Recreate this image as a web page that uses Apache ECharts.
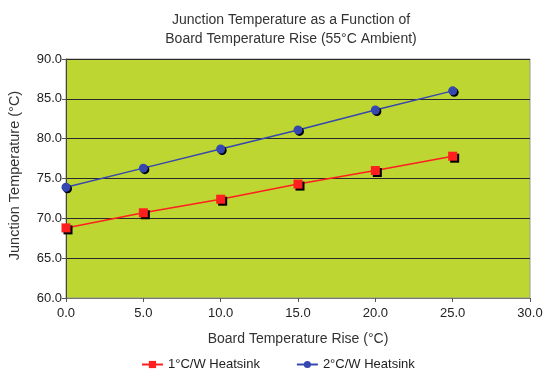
<!DOCTYPE html>
<html><head><meta charset="utf-8">
<script src="https://cdn.jsdelivr.net/npm/echarts@6/dist/echarts.min.js"></script>
<style>html,body{margin:0;padding:0;background:#fff}#c{width:546px;height:374px}</style>
</head><body><div id="c"></div>
<script>
var xValues = [0, 5, 10, 15, 20, 25];
var series1Name = '1°C/W Heatsink';
var series1 = [68.8, 70.7, 72.4, 74.3, 76.0, 77.8];
var series2Name = '2°C/W Heatsink';
var series2 = [73.9, 76.3, 78.7, 81.1, 83.6, 86.0];
var titleLines = ['Junction Temperature as a Function of', 'Board Temperature Rise (55°C Ambient)'];
var xName = 'Board Temperature Rise (°C)';
var yName = 'Junction Temperature (°C)';

function pairs(arr){ return xValues.map(function(x,i){ return [x, arr[i]]; }); }
var font = '"Liberation Sans", Arial, sans-serif';
var chart = echarts.init(document.getElementById('c'));
chart.setOption({
  animation: false,
  textStyle: {fontFamily: font},
  title: {
    text: titleLines.join('\n'), left: 286, textAlign: 'center', top: 6,
    textStyle: {fontSize: 14, fontWeight: 'normal', color: '#333', lineHeight: 19, fontFamily: font}
  },
  legend: {
    top: 353, left: 136, itemGap: 36, itemWidth: 21, itemHeight: 9,
    textStyle: {fontSize: 13, color: '#222', fontFamily: font},
    data: [series1Name, series2Name]
  },
  grid: {left: 66, top: 59, right: 16, bottom: 76, outerBoundsMode: 'none', containLabel: false,
         show: true, backgroundColor: '#BDD631', borderColor: '#999', borderWidth: 1},
  xAxis: {
    type: 'value', min: 0, max: 30, interval: 5,
    name: xName, nameLocation: 'middle', nameGap: 34,
    nameTextStyle: {fontSize: 14, color: '#333', fontFamily: font},
    axisLine: {show: true, lineStyle: {color: '#777'}},
    axisTick: {show: true, length: 4, lineStyle: {color: '#555'}},
    axisLabel: {formatter: function(v){return v.toFixed(1);}, fontSize: 13, color: '#222', margin: 9},
    splitLine: {show: false}
  },
  yAxis: {
    type: 'value', min: 60, max: 90, interval: 5,
    name: yName, nameLocation: 'middle', nameGap: 44, nameRotate: 90,
    nameTextStyle: {fontSize: 14.5, color: '#333', fontFamily: font, padding: [0, 0, 0, 6]},
    axisLine: {show: true, lineStyle: {color: '#444'}},
    axisTick: {show: true, length: 4, lineStyle: {color: '#555'}},
    axisLabel: {formatter: function(v){return v.toFixed(1);}, fontSize: 13, color: '#222', margin: 4},
    splitLine: {show: true, lineStyle: {color: '#2a2a2a', width: 1}}
  },
  series: [
    {name: series1Name, type: 'line', data: pairs(series1), symbol: 'rect', symbolSize: 9,
     lineStyle: {color: '#FF1F1F', width: 1.5}, itemStyle: {color: '#FF1F1F', shadowColor: '#000', shadowOffsetX: 2, shadowOffsetY: 2, shadowBlur: 0}},
    {name: series2Name, type: 'line', data: pairs(series2), symbol: 'circle', symbolSize: 9,
     lineStyle: {color: '#3548B0', width: 1.5}, itemStyle: {color: '#3548B0', shadowColor: '#000', shadowOffsetX: 1.5, shadowOffsetY: 1.5, shadowBlur: 0}}
  ]
});
</script></body></html>
